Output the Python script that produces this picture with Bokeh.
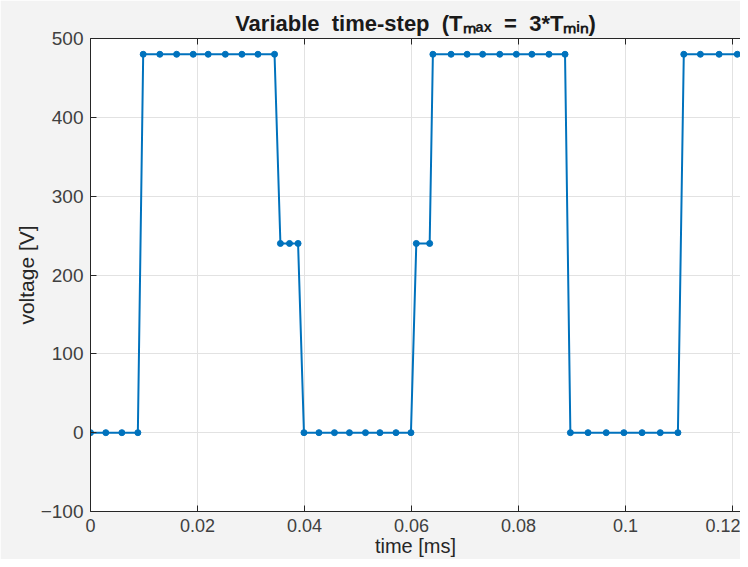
from bokeh.plotting import figure
from bokeh.models import Range1d, FixedTicker, LinearAxis
from bokeh.embed import file_html
from bokeh.resources import INLINE

# ---- data ----
time_ms = [0.0, 0.00286, 0.00586, 0.00885,
           0.00985, 0.01296, 0.0161, 0.0192, 0.0220, 0.0252, 0.0283, 0.0313, 0.0344,
           0.0355, 0.0372, 0.0388,
           0.0399, 0.0427, 0.0456, 0.0484, 0.0514, 0.0541, 0.0571, 0.0599,
           0.0609, 0.0634,
           0.0640, 0.0674, 0.0704, 0.0733, 0.0765, 0.0796, 0.0825, 0.0857, 0.0887,
           0.0897, 0.0930, 0.0964, 0.0997, 0.1031, 0.1065, 0.1098,
           0.1109, 0.1140, 0.1175, 0.1209, 0.1243]
voltage = [0, 0, 0, 0,
           480, 480, 480, 480, 480, 480, 480, 480, 480,
           240, 240, 240,
           0, 0, 0, 0, 0, 0, 0, 0,
           240, 240,
           480, 480, 480, 480, 480, 480, 480, 480, 480,
           0, 0, 0, 0, 0, 0, 0,
           480, 480, 480, 480, 480]

x_ticks = [0, 0.02, 0.04, 0.06, 0.08, 0.1, 0.12]
x_tick_labels = ["0", "0.02", "0.04", "0.06", "0.08", "0.1", "0.12"]
y_ticks = [-100, 0, 100, 200, 300, 400, 500]

NB = "\u00a0"
title_text = ("Variable" + NB + " time-step" + NB + " (T\u2098\u2090\u2093" + NB
              + " =" + NB + " 3*T\u2098\u1d62\u2099)")

FONT = "Liberation Sans"
AX = "#262626"
BG = "#f3f3f3"
BLUE = "#0072BD"

p = figure(width=740, height=559, output_backend="svg", toolbar_location=None,
           x_range=Range1d(0, 0.1215), y_range=Range1d(-100, 500),
           min_border_left=90, min_border_right=0, min_border_top=38,
           min_border_bottom=47, background_fill_color="white",
           border_fill_color=BG, outline_line_color=None)

p.title.text = title_text
p.title.align = "center"
p.title.offset = 10
p.title.text_font = FONT
p.title.text_font_size = "22px"
p.title.text_font_style = "bold"
p.title.text_color = "#1a1a1a"
p.title.standoff = 5

xa = p.xaxis[0]
xa.ticker = FixedTicker(ticks=x_ticks)
xa.major_label_overrides = {t: l for t, l in zip(x_ticks, x_tick_labels)}
xa.axis_label = "time [ms]"
ya = p.yaxis[0]
ya.ticker = FixedTicker(ticks=y_ticks)
ya.axis_label = "voltage [V]"
for ax in (xa, ya):
    ax.axis_line_color = AX
    ax.axis_line_width = 1
    ax.major_tick_line_color = AX
    ax.major_tick_in = 6
    ax.major_tick_out = 0
    ax.minor_tick_line_color = None
    ax.major_label_text_font = FONT
    ax.major_label_text_color = "#404040"
    ax.axis_label_text_font = FONT
    ax.axis_label_text_font_style = "normal"
    ax.axis_label_text_color = "#262626"
xa.major_label_text_font_size = "18px"
xa.axis_label_text_font_size = "20px"
xa.major_label_standoff = 7
xa.axis_label_standoff = 0
ya.major_label_text_font_size = "19px"
ya.axis_label_text_font_size = "21px"
ya.major_label_standoff = 7
ya.axis_label_standoff = 0

# top edge of the box: ticks only, no labels
top = LinearAxis(ticker=FixedTicker(ticks=x_ticks), axis_line_color=AX,
                 major_tick_line_color=AX, major_tick_in=6, major_tick_out=0,
                 minor_tick_line_color=None, major_label_text_color=None,
                 major_label_standoff=0)
p.add_layout(top, "above")

p.xgrid.ticker = FixedTicker(ticks=x_ticks)
p.ygrid.ticker = FixedTicker(ticks=y_ticks)
p.xgrid.grid_line_color = "#e2e2e2"
p.ygrid.grid_line_color = "#e2e2e2"

p.line(time_ms, voltage, line_color=BLUE, line_width=2)
p.scatter(time_ms, voltage, size=6, fill_color=BLUE, line_color=BLUE)

open("out.html", "w").write(file_html(p, INLINE))
